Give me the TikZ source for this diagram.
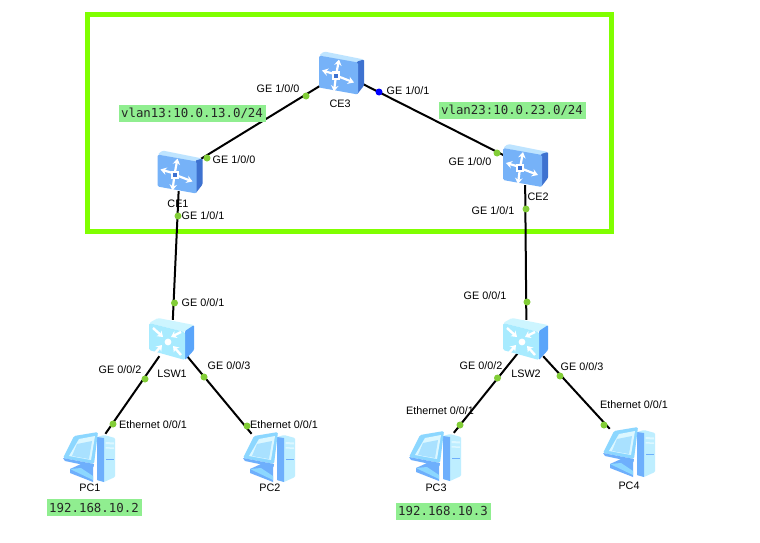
\documentclass[tikz,border=0pt]{standalone}
\usepackage{fontspec}
\setmainfont{Liberation Sans}
\newfontfamily\netmono{DejaVu Sans Mono}
\usetikzlibrary{arrows.meta}
\definecolor{framegreen}{RGB}{128,255,0}
\definecolor{portgreen}{RGB}{130,205,55}
\definecolor{noteback}{RGB}{144,238,144}
\definecolor{routerface}{RGB}{118,178,248}
\definecolor{routerside}{RGB}{62,114,208}
\definecolor{routertop}{RGB}{190,228,255}
\definecolor{switchface}{RGB}{168,235,255}
\definecolor{switchside}{RGB}{90,165,250}
\definecolor{switchtop}{RGB}{205,245,255}
\definecolor{pcface}{RGB}{140,215,255}
\definecolor{pcdark}{RGB}{110,175,252}
\definecolor{pclight}{RGB}{220,247,255}
\definecolor{pctower}{RGB}{190,238,255}
\tikzset{
  x=1pt, y=-1pt,
  device/.style={inner sep=0pt, minimum width=#1, minimum height=#1},
  port/.style={circle, fill=portgreen, inner sep=0pt, minimum size=7pt},
  activeport/.style={circle, fill=blue, inner sep=0pt, minimum size=7pt},
  lbl/.style={font=\fontsize{10.8}{12}\selectfont, inner sep=0pt, text=black},
  note/.style={font=\netmono\fontsize{12.4}{14}\selectfont, fill=noteback, inner sep=0pt,
    minimum height=17pt, text=black!85},
  link/.style={line width=2pt, black},
  glyph/.style={white, line width=2.2pt, -{Stealth[length=6pt,width=7.5pt]}},
  inglyph/.style={white, line width=2.4pt, -{Stealth[length=5.5pt,width=7.5pt]}},
  pics/router/.style={code={
    \fill[routertop, rounded corners=1.5pt] (-22,-18) -- (-17,-22) -- (23,-14) -- (17,-10) -- cycle;
    \fill[routerside, rounded corners=1pt] (16,-12) -- (23,-14) -- (23,12) -- (16,21) -- cycle;
    \fill[routerface, rounded corners=1.5pt] (-22,-18) -- (17,-11) -- (17,21) -- (-22,14) -- cycle;
    \draw[glyph] (-5,1) -- (-19,-3);
    \draw[glyph] (-5,2) -- (13,9);
    \draw[glyph] (-5,2) -- (-2,-14);
    \draw[glyph] (-5,2) -- (-7,18);
    \fill[white] (-9,-2) rectangle (-1,6);
    \fill[routerside] (-7,0) rectangle (-3,4);
  }},
  pics/lanswitch/.style={code={
    \fill[switchtop, rounded corners=1.5pt] (-23,-15) -- (-14,-20) -- (22,-13) -- (13,-6) -- cycle;
    \fill[switchside, rounded corners=1pt] (13,-7) -- (22,-13) -- (22,12) -- (13,22) -- cycle;
    \fill[switchface, rounded corners=1.5pt] (-23,-15) -- (13,-6) -- (13,22) -- (-23,12) -- cycle;
    \draw[inglyph] (-19,-10) -- (-9,-1);
    \draw[inglyph] (9,-6) -- (-1,-1);
    \draw[inglyph] (-17,15) -- (-10,7);
    \draw[inglyph] (9,17) -- (1,8);
    \fill[white] (-4,4) circle (3.4);
  }},
  pics/desktop/.style={code={
    % base and neck
    \fill[pcdark] (-9,8) -- (3,8) -- (3,26) -- (-20,17) -- (-20,13) -- cycle;
    \fill[pcface] (-20,13) -- (-9,12) -- (3,20) -- (3,24) -- cycle;
    % tower
    \fill[pctower, rounded corners=1pt] (7,-19) -- (14,-21) -- (25,-18) -- (25,21) -- (14,26) -- (7,24) -- cycle;
    \fill[pcdark] (7,-19) -- (14,-18) -- (14,26) -- (7,24) -- cycle;
    \fill[pclight] (15.5,-14) -- (24,-13.5) -- (24,-11.5) -- (15.5,-12) -- cycle;
    \fill[pclight] (15.5,-9) -- (24,-8.5) -- (24,-7) -- (15.5,-7.5) -- cycle;
    \fill[pcdark] (15.5,3) -- (24,3) -- (24,4) -- (15.5,4) -- cycle;
    % monitor
    \fill[pcface, rounded corners=1.5pt] (-27,2) -- (-16,-20) -- (8,-24) -- (4,8) -- cycle;
    \fill[pcdark] (-27,2) -- (4,8) -- (3.5,11) -- (-25,5) -- cycle;
    \fill[pclight] (-21,0) -- (-11,-17) -- (5,-20) -- (1,4) -- cycle;
    \fill[pcface!75!white] (-13,-12) -- (2,-15) -- (-1,3) -- (-18,0) -- cycle;
  }},
}
\begin{document}
\begin{tikzpicture}
  \useasboundingbox (0,0) rectangle (760,543);
  \fill[white] (0,0) rectangle (760,543);

  % device footprints, used as connector ends
  \node[device=38pt] (ce1) at (179.5,172) {};
  \node[device=38pt] (ce2) at (525,166) {};
  \node[device=38pt] (ce3) at (341,73) {};
  \node[device=36pt] (lsw1) at (172,338) {};
  \node[device=36pt] (lsw2) at (526.5,338) {};
  \node[device=44pt] (pc1) at (90,456) {};
  \node[device=44pt] (pc2) at (270,456) {};
  \node[device=44pt] (pc3) at (436,455) {};
  \node[device=44pt] (pc4) at (630,451) {};
  \coordinate (lsw2w) at (530,338);

  % zone outline
  \draw[framegreen, line width=5pt] (87.5,14.5) rectangle (611,231.5);

  % links
  \draw[link] (ce1) -- (ce3);
  \draw[link] (ce3) -- (ce2);
  \draw[link] (ce1) -- (lsw1);
  \draw[link] (ce2) -- (lsw2);
  \draw[link] (lsw1) -- (pc1);
  \draw[link] (lsw1) -- (pc2);
  \draw[link] (lsw2w) -- (pc3);
  \draw[link] (lsw2) -- (pc4);

  % device icons
  \pic at (341,73.5) {router};
  \pic at (179.5,172.5) {router};
  \pic at (525,166) {router};
  \pic at (172,338) {lanswitch};
  \pic at (526,338) {lanswitch};
  \pic at (90,456) {desktop};
  \pic at (270,456) {desktop};
  \pic at (436,455) {desktop};
  \pic at (630,451) {desktop};

  % port markers
  \node[port] (p1) at (306,96) {};
  \node[activeport] (p2) at (379,92) {};
  \node[port] (p3) at (207,158) {};
  \node[port] (p4) at (497,153) {};
  \node[port] (p5) at (178,216) {};
  \node[port] (p6) at (526,209) {};
  \node[port] (p7) at (174.5,303) {};
  \node[port] (p8) at (527,302) {};
  \node[port] (p9) at (145,379) {};
  \node[port] (p10) at (204,377) {};
  \node[port] (p11) at (113,424) {};
  \node[port] (p12) at (247,426) {};
  \node[port] (p13) at (497.5,378) {};
  \node[port] (p14) at (560,376) {};
  \node[port] (p15) at (460,425) {};
  \node[port] (p16) at (604,425) {};

  % port labels
  \node[lbl] at (278,89) {GE 1/0/0};
  \node[lbl] at (408,91) {GE 1/0/1};
  \node[lbl] at (234,160) {GE 1/0/0};
  \node[lbl] at (470,162) {GE 1/0/0};
  \node[lbl] at (203,216) {GE 1/0/1};
  \node[lbl] at (493,211) {GE 1/0/1};
  \node[lbl] at (203,303) {GE 0/0/1};
  \node[lbl] at (485,296) {GE 0/0/1};
  \node[lbl] at (120,370) {GE 0/0/2};
  \node[lbl] at (229,366) {GE 0/0/3};
  \node[lbl] at (481,366) {GE 0/0/2};
  \node[lbl] at (582,367) {GE 0/0/3};
  \node[lbl] at (153,425) {Ethernet 0/0/1};
  \node[lbl] at (284,425) {Ethernet 0/0/1};
  \node[lbl] at (440,411) {Ethernet 0/0/1};
  \node[lbl] at (634,405) {Ethernet 0/0/1};

  % device names
  \node[lbl] at (340,104) {CE3};
  \node[lbl] at (178,204) {CE1};
  \node[lbl] at (538,197) {CE2};
  \node[lbl] at (172,374) {LSW1};
  \node[lbl] at (526,374) {LSW2};
  \node[lbl] at (90,488) {PC1};
  \node[lbl] at (270,488) {PC2};
  \node[lbl] at (436,488) {PC3};
  \node[lbl] at (629,486) {PC4};

  % addressing notes
  \node[note, minimum width=147pt] at (192,113.5) {vlan13:10.0.13.0/24};
  \node[note, minimum width=147pt] at (512,110.5) {vlan23:10.0.23.0/24};
  \node[note, minimum width=95pt] at (94,507.5) {192.168.10.2};
  \node[note, minimum width=95pt] at (443,511) {192.168.10.3};
\end{tikzpicture}
\end{document}
